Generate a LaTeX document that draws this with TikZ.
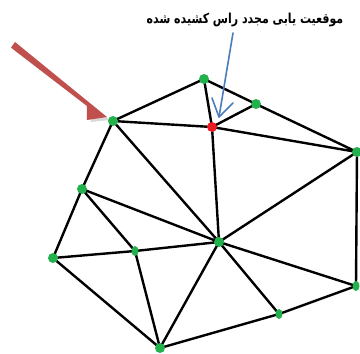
\documentclass[tikz,border=0pt]{standalone}
\usepackage{fontspec}
\newfontfamily\arabicfont[Script=Arabic, BoldFont={DejaVu Sans Bold}]{DejaVu Sans}
\TeXXeTstate=1
\usetikzlibrary{backgrounds}
\definecolor{dotgreen}{HTML}{22B14C}
\definecolor{dotred}{HTML}{ED1C24}
\definecolor{arrowred}{HTML}{C0504D}
\definecolor{arrowblue}{HTML}{4A7EBB}
\tikzset{
  gdot/.style={ellipse, fill=dotgreen, inner sep=0pt, minimum width=10pt, minimum height=10pt},
  gthin/.style={gdot, minimum width=7pt, minimum height=10pt},
  rdot/.style={circle, fill=dotred, inner sep=0pt, minimum size=10pt},
  edge/.style={black, line width=2.4pt},
  bluearrow/.style={arrowblue, line width=1.6pt, line cap=round, line join=round},
}
\usetikzlibrary{shapes.geometric}
\begin{document}
\begin{tikzpicture}[x=1pt,y=-1pt]
\useasboundingbox (0,0) rectangle (360,354);
% vertices
\node[gdot] (A) at (113,121) {};
\node[gdot] (B) at (204,79) {};
\node[gdot] (C) at (256,104) {};
\node[rdot] (R) at (212,127) {};
\node[gdot] (D) at (357,152) {};
\node[gdot] (E) at (82,189) {};
\node[gdot] (F) at (53,258) {};
\node[gthin] (G) at (135,251) {};
\node[gdot] (H) at (219,242) {};
\node[gthin] (I) at (356,286) {};
\node[gthin] (J) at (279,314) {};
\node[gdot] (K) at (160,348) {};
\begin{pgfonlayer}{background}
\draw[edge] (A.center) -- (B.center) (A.center) -- (R.center) (A.center) -- (E.center) (A.center) -- (H.center)
  (B.center) -- (C.center) -- (D.center) (B.center) -- (R.center) (C.center) -- (R.center) (R.center) -- (D.center)
  (R.center) -- (H.center) (D.center) -- (H.center) (D.center) -- (I.center)
  (E.center) -- (H.center) (E.center) -- (G.center) (E.center) -- (F.center)
  (F.center) -- (G.center) -- (H.center) (F.center) -- (K.center) (G.center) -- (K.center)
  (H.center) -- (K.center) (H.center) -- (J.center) (H.center) -- (I.center)
  (I.center) -- (J.center) -- (K.center);
\end{pgfonlayer}
% label
\node[font=\arabicfont\bfseries\fontsize{11}{13}\selectfont, inner sep=0pt, yscale=1.25] (T) at (245,20) {\beginR موقعیت یابی مجدد راس کشیده شده\endR};
% blue arrow
\coordinate (bs) at (233,33);
\coordinate (bt) at (219,117);
\draw[bluearrow] (bs) -- (bt);
\draw[bluearrow] (212,98) -- (bt) -- (233,103);
% red arrow with shadow
\fill[gray, opacity=0.3] (17.3,45.6) -- (110,120) -- (91,122) -- (91,109) -- (14.2,50.4) -- cycle;
\fill[arrowred] (15.0,42.0) -- (107,117) -- (87,120) -- (87,106) -- (11.0,47.6) -- cycle;
\end{tikzpicture}
\end{document}
